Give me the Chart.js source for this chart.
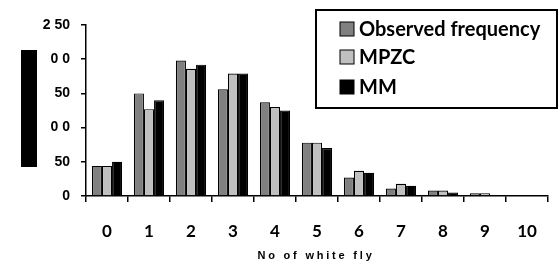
<!DOCTYPE html>
<html>
<head>
<meta charset="utf-8">
<script src="https://cdn.jsdelivr.net/npm/chart.js@4/dist/chart.umd.min.js"></script>
<style>
  html, body { margin: 0; padding: 0; background: #fff; }
  #wrap { width: 558px; height: 264px; }
</style>
</head>
<body>
<div id="wrap"><canvas id="chart" width="558" height="264"></canvas></div>
<script>
// categories: number of white fly
const categories = ['0', '1', '2', '3', '4', '5', '6', '7', '8', '9', '10'];
const observed = [44, 150, 198, 156, 137, 78, 27, 11, 8, 4, 0];
const mpzc = [44, 127, 186, 179, 130, 78, 37, 18, 8, 4, 0];
const mm = [50, 140, 192, 179, 125, 70, 34, 15, 5, 1, 0];
// y tick labels as they appear (partly garbled in the source)
const yTickLabels = ['0', '50', '0 0', '50', '0 0', '2 50'];
const seriesNames = ['Observed frequency', 'MPZC', 'MM'];
const seriesColors = ['#808080', '#c0c0c0', '#000000'];
const xTitle = 'No of white fly';

// draws the boxed legend, the x title and the black block on the left
const extras = {
  id: 'extras',
  afterDraw(chart) {
    const ctx = chart.ctx;
    ctx.save();
    // black block where the y title was
    ctx.fillStyle = '#000';
    ctx.fillRect(21, 50, 16, 117);

    // legend box
    ctx.strokeStyle = '#000';
    ctx.lineWidth = 2;
    ctx.strokeRect(316, 10, 241, 98);
    ctx.font = 'bold 20px Lato, "Liberation Sans", sans-serif';
    ctx.textBaseline = 'middle';
    const rows = [29, 57, 87];
    seriesNames.forEach((name, i) => {
      ctx.fillStyle = seriesColors[i];
      ctx.fillRect(340, rows[i] - 7, 14, 14);
      ctx.lineWidth = 1;
      ctx.strokeRect(340, rows[i] - 7, 14, 14);
      ctx.fillStyle = '#000';
      ctx.fillText(name, 359, rows[i] + 1);
    });

    // x axis title, letter spaced
    ctx.font = 'bold 11px "Liberation Sans", Arial, sans-serif';
    ctx.letterSpacing = '2.8px';
    ctx.textAlign = 'center';
    ctx.textBaseline = 'alphabetic';
    ctx.fillText(xTitle, 316, 259);
    ctx.restore();
  }
};

new Chart(document.getElementById('chart'), {
  type: 'bar',
  data: {
    labels: categories,
    datasets: [
      { label: seriesNames[0], data: observed, backgroundColor: seriesColors[0] },
      { label: seriesNames[1], data: mpzc, backgroundColor: seriesColors[1] },
      { label: seriesNames[2], data: mm, backgroundColor: seriesColors[2] }
    ].map(d => Object.assign(d, {
      borderColor: '#000',
      borderWidth: 1.2,
      categoryPercentage: 0.72,
      barPercentage: 1
    }))
  },
  options: {
    responsive: false,
    animation: false,
    devicePixelRatio: 1,
    layout: { padding: { top: 25, right: 10, left: 0, bottom: 0 } },
    plugins: { legend: { display: false }, tooltip: { enabled: false } },
    scales: {
      x: {
        afterFit: s => { s.height = 68; },
        grid: { display: true, drawOnChartArea: false, tickLength: 6, color: '#000', lineWidth: 1.5 },
        border: { color: '#000', width: 1.5 },
        ticks: {
          padding: 19,
          color: '#000',
          font: { family: 'Lato, "Liberation Sans", sans-serif', size: 17, weight: 'bold' }
        }
      },
      y: {
        min: 0,
        max: 250,
        afterFit: s => { s.width = 86; },
        grid: { display: true, drawOnChartArea: false, tickLength: 5, color: '#000', lineWidth: 1.5 },
        border: { color: '#000', width: 1.5 },
        ticks: {
          stepSize: 50,
          padding: 11,
          color: '#000',
          font: { family: '"Liberation Sans", Arial, sans-serif', size: 14, weight: 'bold' },
          callback: (v) => yTickLabels[v / 50]
        }
      }
    }
  },
  plugins: [extras]
});
</script>
</body>
</html>
